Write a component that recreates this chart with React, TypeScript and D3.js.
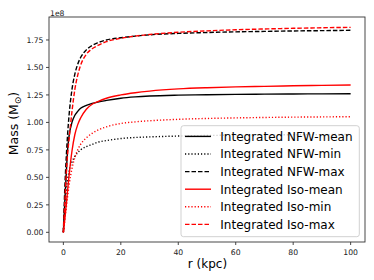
import React from "react";
import * as d3 from "d3";

// radius samples (kpc)
const radius = [0, 0.5, 1, 1.5, 2, 3, 4, 5, 6, 8, 10, 12, 15, 20, 25, 30, 40, 50, 60, 70, 80, 90, 100];

// integrated masses, in units of 1e8 Msun
const nfwMean = [0, 0.28, 0.53, 0.76, 0.88, 1.0, 1.065, 1.1, 1.128, 1.155, 1.172, 1.185, 1.2, 1.22, 1.232, 1.24, 1.248, 1.252, 1.255, 1.257, 1.259, 1.26, 1.261];
const nfwMin = [0, 0.22, 0.38, 0.48, 0.56, 0.64, 0.69, 0.725, 0.75, 0.78, 0.8, 0.82, 0.835, 0.853, 0.863, 0.868, 0.876, 0.881, 0.884, 0.886, 0.888, 0.889, 0.89];
const nfwMax = [0, 0.4, 0.68, 0.9, 1.07, 1.3, 1.44, 1.53, 1.59, 1.66, 1.7, 1.725, 1.75, 1.77, 1.785, 1.797, 1.81, 1.818, 1.824, 1.828, 1.832, 1.835, 1.838];
const isoMean = [0, 0.12, 0.25, 0.39, 0.52, 0.74, 0.89, 0.98, 1.04, 1.12, 1.165, 1.19, 1.22, 1.25, 1.27, 1.285, 1.305, 1.316, 1.323, 1.328, 1.333, 1.337, 1.34];
const isoMin = [0, 0.11, 0.22, 0.33, 0.43, 0.58, 0.68, 0.75, 0.8, 0.86, 0.9, 0.93, 0.96, 0.99, 1.005, 1.015, 1.028, 1.036, 1.041, 1.045, 1.048, 1.05, 1.052];
const isoMax = [0, 0.27, 0.53, 0.72, 0.85, 1.1, 1.3, 1.43, 1.52, 1.62, 1.67, 1.7, 1.735, 1.765, 1.785, 1.8, 1.82, 1.833, 1.843, 1.85, 1.856, 1.861, 1.865];

const xTicks = [0, 20, 40, 60, 80, 100];
const yTicks = [0, 0.25, 0.5, 0.75, 1.0, 1.25, 1.5, 1.75];

const series = [
  { name: "Integrated NFW-mean", values: nfwMean, color: "#000000", dash: "none" },
  { name: "Integrated NFW-min", values: nfwMin, color: "#000000", dash: "1.2,2" },
  { name: "Integrated NFW-max", values: nfwMax, color: "#000000", dash: "4.5,2" },
  { name: "Integrated Iso-mean", values: isoMean, color: "#ff0000", dash: "none" },
  { name: "Integrated Iso-min", values: isoMin, color: "#ff0000", dash: "1.2,2" },
  { name: "Integrated Iso-max", values: isoMax, color: "#ff0000", dash: "4.5,2" },
];

const W = 374;
const H = 280;
const left = 49, right = 365, top = 17, bottom = 242;
const font = "DejaVu Sans";

export default function App() {
  const x = d3.scaleLinear().domain([-5, 105]).range([left, right]);
  const y = d3.scaleLinear().domain([-0.088, 1.959]).range([bottom, top]);

  const line = d3
    .line<number>()
    .x((_, i) => x(radius[i]))
    .y((d) => y(d))
    .curve(d3.curveMonotoneX);

  const spine = "#333";

  return (
    <svg width={W} height={H} style={{ position: "absolute", left: 0, top: 0, background: "#fff" }} fontFamily={font}>
      <rect width={W} height={H} fill="#fff" />
      <defs>
        <clipPath id="plot">
          <rect x={left} y={top} width={right - left} height={bottom - top} />
        </clipPath>
      </defs>

      <g clipPath="url(#plot)">
        {series.map((s) => (
          <path
            key={s.name}
            d={line(s.values) || ""}
            fill="none"
            stroke={s.color}
            strokeWidth={1.4}
            strokeDasharray={s.dash}
          />
        ))}
      </g>

      {/* spines */}
      <rect x={left} y={top} width={right - left} height={bottom - top} fill="none" stroke={spine} strokeWidth={0.9} />

      {/* x axis */}
      {xTicks.map((t) => (
        <g key={t} transform={`translate(${x(t)},${bottom})`}>
          <line y2={3} stroke={spine} strokeWidth={0.9} />
          <text y={12.5} textAnchor="middle" fontSize={7.7} fill="#222">
            {t}
          </text>
        </g>
      ))}
      <text x={(left + right) / 2 + 0.5} y={268} textAnchor="middle" fontSize={12} fill="#000">
        r (kpc)
      </text>

      {/* y axis */}
      {yTicks.map((t) => (
        <g key={t} transform={`translate(${left},${y(t)})`}>
          <line x2={-3} stroke={spine} strokeWidth={0.9} />
          <text x={-5.5} dy="0.35em" textAnchor="end" fontSize={7.7} fill="#222">
            {t.toFixed(2)}
          </text>
        </g>
      ))}
      <text x={50} y={15.5} fontSize={7.7} fill="#222">
        1e8
      </text>
      <text transform={`translate(17.5,${(top + bottom) / 2 - 6}) rotate(-90)`} textAnchor="middle" fontSize={12.5} fill="#000">
        Mass (M
        <tspan fontSize={9} dy={3}>⊙</tspan>
        <tspan dy={-3}>)</tspan>
      </text>

      {/* legend */}
      <rect x={181} y={125.7} width={178.3} height={111} rx={2.5} fill="#fff" fillOpacity={0.8} stroke="#ccc" strokeWidth={0.9} />
      {series.map((s, i) => {
        const cy = 136.4 + i * 17.6;
        return (
          <g key={s.name}>
            <line x1={185} x2={211} y1={cy} y2={cy} stroke={s.color} strokeWidth={1.4} strokeDasharray={s.dash} />
            <text x={220.3} y={cy} dy="0.36em" fontSize={12} fill="#000">
              {s.name}
            </text>
          </g>
        );
      })}
    </svg>
  );
}
